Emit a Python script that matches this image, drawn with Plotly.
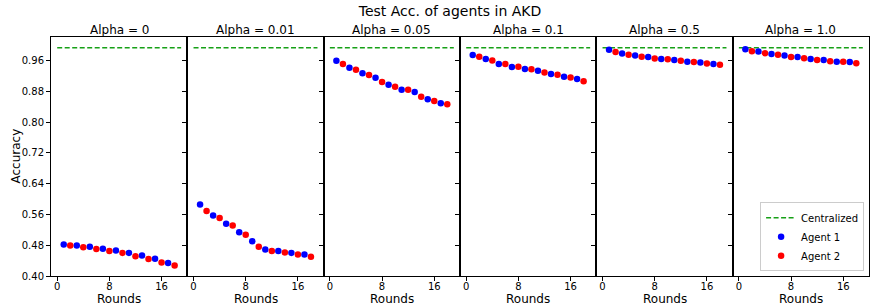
import plotly.graph_objects as go
from plotly.subplots import make_subplots

alphas = ["0", "0.01", "0.05", "0.1", "0.5", "1.0"]
rounds_agent1 = [1, 3, 5, 7, 9, 11, 13, 15, 17]
rounds_agent2 = [2, 4, 6, 8, 10, 12, 14, 16, 18]
centralized_rounds = [0, 19]
centralized_acc = 0.993

agent1_acc = {
    "0":    [0.482, 0.479, 0.476, 0.471, 0.466, 0.460, 0.453, 0.445, 0.434],
    "0.01": [0.586, 0.557, 0.536, 0.514, 0.490, 0.469, 0.465, 0.460, 0.456],
    "0.05": [0.959, 0.941, 0.927, 0.915, 0.897, 0.884, 0.878, 0.859, 0.849],
    "0.1":  [0.974, 0.964, 0.951, 0.943, 0.938, 0.933, 0.925, 0.918, 0.912],
    "0.5":  [0.988, 0.978, 0.973, 0.969, 0.964, 0.961, 0.957, 0.955, 0.951],
    "1.0":  [0.989, 0.983, 0.977, 0.973, 0.969, 0.964, 0.961, 0.957, 0.956],
}
agent2_acc = {
    "0":    [0.479, 0.475, 0.470, 0.465, 0.460, 0.451, 0.444, 0.435, 0.427],
    "0.01": [0.569, 0.551, 0.531, 0.507, 0.476, 0.465, 0.461, 0.456, 0.450],
    "0.05": [0.951, 0.936, 0.922, 0.904, 0.892, 0.884, 0.866, 0.855, 0.846],
    "0.1":  [0.970, 0.960, 0.951, 0.944, 0.937, 0.929, 0.923, 0.916, 0.906],
    "0.5":  [0.982, 0.975, 0.970, 0.965, 0.963, 0.959, 0.956, 0.952, 0.949],
    "1.0":  [0.984, 0.979, 0.975, 0.969, 0.966, 0.961, 0.958, 0.957, 0.953],
}
y_ticks = [0.40, 0.48, 0.56, 0.64, 0.72, 0.80, 0.88, 0.96]
x_ticks = [0, 8, 16]

FONT = "DejaVu Sans"
fig = make_subplots(rows=1, cols=6, shared_yaxes=True, horizontal_spacing=0,
                    subplot_titles=[f"Alpha = {a}" for a in alphas])

for i, a in enumerate(alphas):
    col = i + 1
    show = (i == len(alphas) - 1)
    fig.add_trace(go.Scatter(x=centralized_rounds, y=[centralized_acc] * 2, mode="lines",
                             line=dict(color="#16a016", width=1.4, dash="5px,2.5px"),
                             name="Centralized", showlegend=show), row=1, col=col)
    fig.add_trace(go.Scatter(x=rounds_agent1, y=agent1_acc[a], mode="markers",
                             marker=dict(color="#0000ff", size=6.5),
                             name="Agent 1", showlegend=show), row=1, col=col)
    fig.add_trace(go.Scatter(x=rounds_agent2, y=agent2_acc[a], mode="markers",
                             marker=dict(color="#ff0000", size=6.5),
                             name="Agent 2", showlegend=show), row=1, col=col)
    fig.update_xaxes(range=[-0.95, 19.95], tickvals=x_ticks, ticks="outside", ticklen=4,
                     tickcolor="black", showline=True, mirror=True, linecolor="black",
                     linewidth=1, showgrid=False, zeroline=False, automargin=False,
                     ticklabelstandoff=-3,
                     tickfont=dict(size=10, family=FONT, color="black"), row=1, col=col)
    fig.update_yaxes(range=[0.40, 1.021], tickvals=y_ticks,
                     ticktext=[f"{v:.2f}" for v in y_ticks], ticks="outside", ticklen=4,
                     tickcolor="black", showline=True, mirror=True, linecolor="black",
                     linewidth=1, showgrid=False, zeroline=False, automargin=False,
                     showticklabels=(i == 0),
                     tickfont=dict(size=10, family=FONT, color="black"), row=1, col=col)

for ann in fig.layout.annotations:
    ann.font = dict(size=12, family=FONT, color="black")
    ann.yshift = -2

# "Rounds" label under each panel, centred on its x domain
for i in range(len(alphas)):
    xa = fig.layout["xaxis" if i == 0 else f"xaxis{i + 1}"]
    dom = xa.domain
    fig.add_annotation(text="Rounds", xref="paper", yref="paper",
                       x=(dom[0] + dom[1]) / 2, y=-0.097, showarrow=False,
                       xanchor="center", yanchor="middle",
                       font=dict(size=12, family=FONT, color="black"))

fig.add_annotation(text="Accuracy", xref="paper", yref="paper", x=-0.044, y=0.5,
                   textangle=-90, showarrow=False, xanchor="center", yanchor="middle",
                   font=dict(size=12, family=FONT, color="black"))

fig.update_layout(
    width=870, height=306,
    margin=dict(l=51, r=1, t=37, b=30, autoexpand=False),
    paper_bgcolor="white", plot_bgcolor="white",
    font=dict(family=FONT, color="black"),
    title=dict(text="Test Acc. of agents in AKD", x=450 / 870, xanchor="center",
               y=1 - 11 / 306, yanchor="middle", font=dict(size=14, family=FONT, color="black")),
    legend=dict(x=0.994, y=0.02, xanchor="right", yanchor="bottom",
                bgcolor="rgba(255,255,255,0.8)", bordercolor="#cccccc", borderwidth=1,
                font=dict(size=10, family=FONT, color="black"), tracegroupgap=0,
                itemwidth=30),
    showlegend=True,
)

fig.write_html("out.html", config={"displayModeBar": False},
               post_script="document.body.style.margin='0';document.body.style.overflow='hidden';")
